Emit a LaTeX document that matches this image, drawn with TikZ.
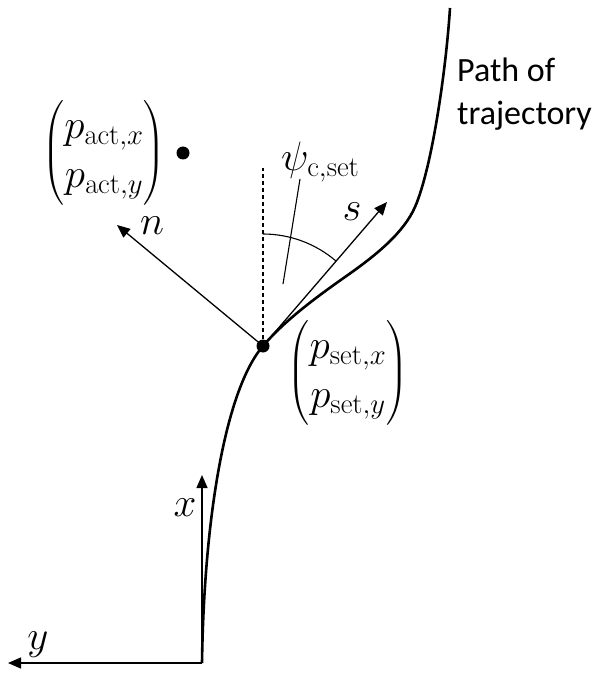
\RequirePackage{fix-cm}
\documentclass[tikz,border=0pt]{standalone}
\usepackage{amsmath}
\usepackage[no-math]{fontspec}
\setmainfont{Carlito}
\usetikzlibrary{arrows.meta,calc}
\begin{document}
\begin{tikzpicture}[x=1pt,y=1pt,
  vec/.style={line width=1.3pt,-{Triangle[length=13pt,width=11pt]}},
  thinline/.style={line width=1.1pt},
  pathline/.style={line width=2.6pt},
  lbl/.style={inner sep=0pt,font=\fontsize{41}{49}\selectfont},
  txt/.style={inner sep=0pt,align=left,font=\fontsize{34}{43}\selectfont},
  dotmark/.style={circle,fill=black,inner sep=0pt,minimum size=13pt}]
\useasboundingbox (0,0) rectangle (606,-676);
% coordinates
\coordinate (O) at (202,-663);
\coordinate (yend) at (8,-663);
\coordinate (xend) at (202,-475);
\coordinate (S) at (263,-346);
\coordinate (sEnd) at (387,-202);
\coordinate (nEnd) at (117,-225);
\coordinate (dashTop) at (263,-168);
\coordinate (top) at (450,-8);
\coordinate (leadA) at (283,-284);
\coordinate (leadB) at (300,-179);
% path of trajectory
\draw[pathline] (O) .. controls (204,-520) and (225,-390) .. (S)
  .. controls (285,-320) and (318,-296) .. (345,-277)
  .. controls (378,-254) and (404,-232) .. (415,-207)
  .. controls (432,-168) and (446,-70) .. (top);
% axes
\draw[vec] (O) -- (yend);
\draw[vec] (O) -- (xend);
\node[lbl] (xl) at (185,-508) {$x$};
\node[lbl] (yl) at (38,-645) {$y$};
% dashed reference
\draw[thinline,dash pattern=on 4pt off 3pt] (S) -- (dashTop);
% s and n
\draw[vec] (S) -- (sEnd);
\draw[vec] (S) -- (nEnd);
\node[lbl] (sl) at (352,-212) {$s$};
\node[lbl] (nl) at (152,-226) {$n$};
% angle arc
\draw[thinline] ($(S)+(90:112)$) arc[start angle=90,end angle=49.3,radius=112];
\draw[thinline] (leadA) -- (leadB);
\node[lbl,anchor=west] (psi) at (281,-162) {$\psi_{\mathrm{c,set}}$};
% points
\node[dotmark] (sdot) at (S) {};
\node[dotmark] (adot) at (183,-153) {};
\node[lbl] (pact) at (104,-153) {$\begin{pmatrix} p_{\mathrm{act},x}\\ p_{\mathrm{act},y}\end{pmatrix}$};
\node[lbl] (pset) at (348,-373) {$\begin{pmatrix} p_{\mathrm{set},x}\\ p_{\mathrm{set},y}\end{pmatrix}$};
\node[txt,anchor=north west] (ptxt) at (457,-58) {Path of\\trajectory};
\end{tikzpicture}
\end{document}
